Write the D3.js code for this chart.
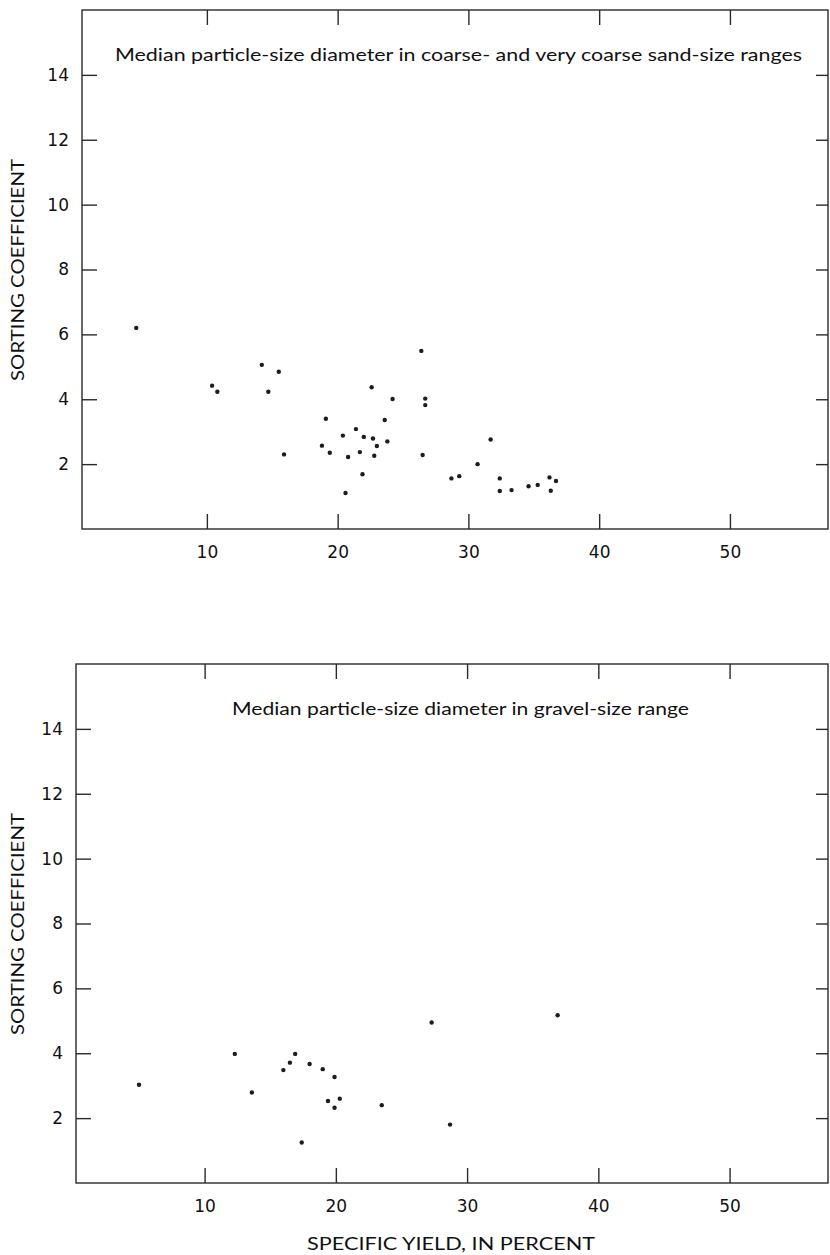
<!DOCTYPE html>
<html>
<head>
<meta charset="utf-8">
<script src="https://cdn.jsdelivr.net/npm/d3@7"></script>
<style>
  body { margin: 0; background: #fff; }
  svg text { font-family: Lato, "Noto Sans", sans-serif; fill: #111; }
</style>
</head>
<body>
<script>
/* ---------------------------- */
/* DATA                         */
/* ---------------------------- */

const xTicks = [10, 20, 30, 40, 50];
const yTicks = [2, 4, 6, 8, 10, 12, 14];

// coarse and very coarse sand: specific yield (%) / sorting coefficient
const sandYield = [4.6, 10.4, 10.8, 14.2, 14.7, 15.5, 15.9, 19.1, 18.8, 19.4,
                   20.4, 20.6, 20.8, 21.4, 21.7, 22.0, 21.9, 22.6, 22.7, 23.0,
                   22.8, 23.6, 23.8, 24.2, 26.4, 26.7, 26.7, 26.5, 31.7, 30.7,
                   28.7, 29.3, 32.4, 32.4, 33.3, 34.6, 35.3, 36.2, 36.7, 36.3];
const sandSorting = [6.2, 4.42, 4.23, 5.06, 4.23, 4.85, 2.30, 3.40, 2.57, 2.35,
                     2.88, 1.11, 2.22, 3.08, 2.37, 2.84, 1.69, 4.37, 2.79, 2.56,
                     2.26, 3.36, 2.70, 4.01, 5.49, 4.02, 3.82, 2.28, 2.76, 2.00,
                     1.56, 1.63, 1.56, 1.17, 1.20, 1.32, 1.36, 1.59, 1.48, 1.18];

// gravel
const gravelYield = [5.0, 12.3, 13.6, 16.0, 16.5, 16.9, 18.0, 19.0, 19.9, 19.4,
                     20.3, 19.9, 23.5, 27.3, 36.9, 17.4, 28.7];
const gravelSorting = [3.03, 3.98, 2.79, 3.48, 3.71, 3.98, 3.67, 3.51, 3.27, 2.53,
                       2.60, 2.32, 2.40, 4.95, 5.17, 1.25, 1.80];

const titles = ["Median particle-size diameter in coarse-  and very coarse sand-size ranges",
                "Median particle-size diameter in gravel-size range"];

/* ---------------------------- */
/* CANVAS                       */
/* ---------------------------- */

const w = 830, h = 1255;
const svg = d3.select("body").append("svg")
    .attr("width", w)
    .attr("height", h);

const ink = "#2a2a2a";

// one panel = framed plot with inward ticks on all four sides
function drawPanel(p) {
    const x = d3.scaleLinear().domain([p.xMin, 57.5]).range([p.left, 828]);
    const y = d3.scaleLinear().domain([0, 16]).range([p.bottom, p.top]);
    const g = svg.append("g");

    // frame
    g.append("rect")
        .attr("x", x(p.xMin)).attr("y", y(16))
        .attr("width", x(57.5) - x(p.xMin)).attr("height", y(0) - y(16))
        .attr("fill", "none").attr("stroke", ink).attr("stroke-width", 1.4);

    const styleAxis = (sel) => {
        sel.select(".domain").remove();
        sel.selectAll(".tick line").attr("stroke", ink).attr("stroke-width", 1.4);
        sel.selectAll(".tick text")
            .style("font-size", "17px")
            .style("font-family", "'DejaVu Sans', sans-serif");
    };

    g.append("g")
        .attr("transform", `translate(0,${y(0)})`)
        .call(d3.axisBottom(x).tickValues(xTicks).tickSize(-15).tickPadding(17).tickFormat(d3.format("d")))
        .call(styleAxis);
    g.append("g")
        .attr("transform", `translate(0,${y(16)})`)
        .call(d3.axisTop(x).tickValues(xTicks).tickSize(-15).tickFormat(""))
        .call(styleAxis);
    g.append("g")
        .attr("transform", `translate(${x(p.xMin)},0)`)
        .call(d3.axisLeft(y).tickValues(yTicks).tickSize(-15).tickPadding(13).tickFormat(d3.format("d")))
        .call(styleAxis);
    g.append("g")
        .attr("transform", `translate(${x(57.5)},0)`)
        .call(d3.axisRight(y).tickValues(yTicks).tickSize(-12).tickFormat(""))
        .call(styleAxis);

    // title inside the frame
    g.append("text")
        .attr("x", p.titleX).attr("y", y(16) + 51)
        .attr("textLength", p.titleLen).attr("lengthAdjust", "spacingAndGlyphs")
        .attr("font-size", "18px")
        .text(p.title);

    // y axis label
    g.append("text")
        .attr("transform", `translate(17,${y(16) + 260}) rotate(-90)`)
        .attr("text-anchor", "middle")
        .attr("dominant-baseline", "central")
        .attr("font-size", "17px")
        .attr("textLength", 222).attr("lengthAdjust", "spacingAndGlyphs")
        .text("SORTING  COEFFICIENT");

    // points
    g.selectAll("circle")
        .data(d3.zip(p.xs, p.ys))
        .enter()
        .append("circle")
            .attr("cx", d => x(d[0]))
            .attr("cy", d => y(d[1]))
            .attr("r", 2.2)
            .attr("fill", "#1c1c1c");

    return {x, y};
}

drawPanel({top: 10, bottom: 529, left: 82, xMin: 0.45,
           title: titles[0], titleX: 115, titleLen: 687,
           xs: sandYield, ys: sandSorting});

drawPanel({top: 664, bottom: 1183, left: 76, xMin: 0.2,
           title: titles[1], titleX: 232, titleLen: 457,
           xs: gravelYield, ys: gravelSorting});

// x axis label (shared, under the lower panel)
svg.append("text")
    .attr("x", 451).attr("y", 1250)
    .attr("text-anchor", "middle")
    .attr("font-size", "17px")
    .attr("textLength", 288).attr("lengthAdjust", "spacingAndGlyphs")
    .text("SPECIFIC  YIELD,  IN  PERCENT");
</script>
</body>
</html>
